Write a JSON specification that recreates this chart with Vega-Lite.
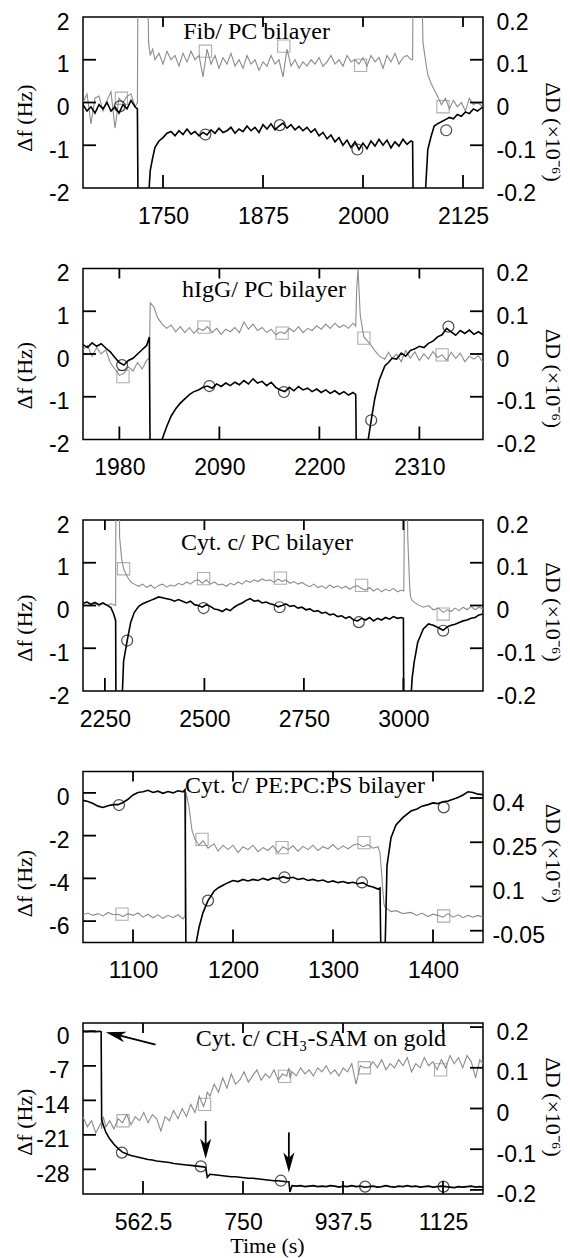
{
"$schema": "https://vega.github.io/schema/vega-lite/v6.json",
"autosize": "none",
"padding": {"left": 83, "top": 17, "right": 487, "bottom": 1241},
"background": "white",
"config": {
  "view": {"stroke": "#000", "strokeWidth": 1.5},
  "axis": {"domain": false, "grid": false, "ticks": false, "labelFont": "Liberation Sans", "labelFontSize": 23, "labelColor": "#000", "titleFont": "Liberation Serif", "titleFontSize": 22, "titleFontWeight": "normal", "titleColor": "#000", "labelFlush": false, "labelOverlap": false}
},
"datasets": {
"p1": [
{"x":1650,"f":-0.05,"d":0},{"x":1655,"f":-0.2,"d":0.02},{"x":1660,"f":-0.1,"d":-0.05},{"x":1665,"f":-0.25,"d":0.01},{"x":1670,"f":-0.05,"d":0.015},{"x":1675,"f":-0.15,"d":-0.02},{"x":1680,"f":0,"d":0.005},{"x":1685,"f":-0.2,"d":0.025},{"x":1690,"f":-0.1,"d":-0.06},{"x":1695,"f":-0.25,"d":0.01},{"x":1700,"f":-0.05,"d":0},{"x":1705,"f":-0.15,"d":0.015},{"x":1710,"f":0.05,"d":0.02},{"x":1715,"f":-0.1,"d":-0.01},{"x":1718,"f":-0.15,"d":0},{"x":1719,"f":-3,"d":0.4},{"x":1730,"f":-3,"d":0.4},{"x":1732,"f":-2.2,"d":0.14},{"x":1734,"f":-1.6,"d":0.11},{"x":1737,"f":-1.3,"d":0.125},{"x":1740,"f":-1.05,"d":0.1},{"x":1745,"f":-0.9,"d":0.115},{"x":1750,"f":-0.82,"d":0.09},{"x":1755,"f":-0.72,"d":0.12},{"x":1760,"f":-0.68,"d":0.1},{"x":1765,"f":-0.78,"d":0.11},{"x":1770,"f":-0.66,"d":0.085},{"x":1775,"f":-0.75,"d":0.115},{"x":1780,"f":-0.62,"d":0.095},{"x":1785,"f":-0.74,"d":0.12},{"x":1790,"f":-0.68,"d":0.1},{"x":1795,"f":-0.78,"d":0.11},{"x":1800,"f":-0.7,"d":0.06},{"x":1805,"f":-0.76,"d":0.125},{"x":1810,"f":-0.64,"d":0.09},{"x":1815,"f":-0.72,"d":0.11},{"x":1820,"f":-0.6,"d":0.08},{"x":1825,"f":-0.7,"d":0.105},{"x":1830,"f":-0.66,"d":0.09},{"x":1835,"f":-0.58,"d":0.115},{"x":1840,"f":-0.72,"d":0.085},{"x":1845,"f":-0.62,"d":0.1},{"x":1850,"f":-0.68,"d":0.08},{"x":1855,"f":-0.55,"d":0.11},{"x":1860,"f":-0.66,"d":0.09},{"x":1865,"f":-0.58,"d":0.1},{"x":1870,"f":-0.7,"d":0.075},{"x":1875,"f":-0.52,"d":0.095},{"x":1880,"f":-0.62,"d":0.085},{"x":1885,"f":-0.5,"d":0.11},{"x":1890,"f":-0.64,"d":0.09},{"x":1895,"f":-0.55,"d":0.1},{"x":1900,"f":-0.48,"d":0.06},{"x":1905,"f":-0.6,"d":0.125},{"x":1910,"f":-0.52,"d":0.085},{"x":1915,"f":-0.64,"d":0.1},{"x":1920,"f":-0.56,"d":0.08},{"x":1925,"f":-0.66,"d":0.095},{"x":1930,"f":-0.58,"d":0.085},{"x":1935,"f":-0.7,"d":0.1},{"x":1940,"f":-0.62,"d":0.09},{"x":1945,"f":-0.78,"d":0.105},{"x":1950,"f":-0.7,"d":0.085},{"x":1955,"f":-0.85,"d":0.095},{"x":1960,"f":-0.76,"d":0.11},{"x":1965,"f":-0.92,"d":0.09},{"x":1970,"f":-0.82,"d":0.1},{"x":1975,"f":-1,"d":0.085},{"x":1980,"f":-0.88,"d":0.11},{"x":1985,"f":-1.05,"d":0.095},{"x":1990,"f":-0.92,"d":0.1},{"x":1995,"f":-1.1,"d":0.09},{"x":2000,"f":-0.95,"d":0.105},{"x":2005,"f":-1.08,"d":0.085},{"x":2010,"f":-0.9,"d":0.11},{"x":2015,"f":-1.02,"d":0.095},{"x":2020,"f":-0.86,"d":0.105},{"x":2025,"f":-1,"d":0.08},{"x":2030,"f":-0.88,"d":0.11},{"x":2035,"f":-1.06,"d":0.095},{"x":2040,"f":-0.92,"d":0.115},{"x":2045,"f":-1.02,"d":0.09},{"x":2050,"f":-0.86,"d":0.105},{"x":2055,"f":-0.98,"d":0.11},{"x":2060,"f":-0.9,"d":0.1},{"x":2062,"f":-0.92,"d":0.1},{"x":2063,"f":-3,"d":0.4},{"x":2072,"f":-3,"d":0.4},{"x":2075,"f":-3,"d":0.14},{"x":2078,"f":-2.1,"d":0.1},{"x":2081,"f":-1.1,"d":0.065},{"x":2085,"f":-0.8,"d":0.045},{"x":2089,"f":-0.55,"d":0.03},{"x":2093,"f":-0.5,"d":0.015},{"x":2098,"f":-0.45,"d":-0.005},{"x":2103,"f":-0.4,"d":0.01},{"x":2108,"f":-0.35,"d":-0.015},{"x":2113,"f":-0.38,"d":0.005},{"x":2118,"f":-0.28,"d":-0.01},{"x":2123,"f":-0.32,"d":0},{"x":2128,"f":-0.22,"d":-0.02},{"x":2133,"f":-0.26,"d":0.01},{"x":2138,"f":-0.15,"d":-0.005},{"x":2143,"f":-0.2,"d":0},{"x":2150,"f":-0.1,"d":-0.01}
],
"c1": [{"x":1696,"f":-0.09},{"x":1803,"f":-0.75},{"x":1896,"f":-0.53},{"x":1993,"f":-1.1},{"x":2104,"f":-0.65}],
"q1": [{"x":1698,"d":0.01},{"x":1803,"d":0.12},{"x":1901,"d":0.132},{"x":1997,"d":0.087},{"x":2100,"d":-0.01}],
"p2": [
{"x":1940,"f":0.22,"d":0.01},{"x":1945,"f":0.15,"d":0.02},{"x":1950,"f":0.26,"d":-0.005},{"x":1955,"f":0.18,"d":0.015},{"x":1960,"f":0.24,"d":0},{"x":1965,"f":0.14,"d":0.01},{"x":1970,"f":0.05,"d":-0.02},{"x":1975,"f":-0.08,"d":-0.035},{"x":1980,"f":-0.2,"d":-0.05},{"x":1985,"f":-0.26,"d":-0.045},{"x":1990,"f":-0.15,"d":-0.03},{"x":1995,"f":-0.1,"d":-0.04},{"x":2000,"f":0,"d":-0.02},{"x":2005,"f":0.1,"d":-0.035},{"x":2010,"f":0.2,"d":-0.015},{"x":2013,"f":0.4,"d":-0.01},{"x":2014,"f":-3,"d":0.12},{"x":2018,"f":-3,"d":0.11},{"x":2022,"f":-3,"d":0.085},{"x":2027,"f":-2,"d":0.07},{"x":2032,"f":-1.7,"d":0.06},{"x":2037,"f":-1.45,"d":0.068},{"x":2042,"f":-1.28,"d":0.052},{"x":2047,"f":-1.15,"d":0.064},{"x":2052,"f":-1.05,"d":0.05},{"x":2057,"f":-0.95,"d":0.062},{"x":2062,"f":-0.88,"d":0.048},{"x":2067,"f":-0.84,"d":0.06},{"x":2072,"f":-0.78,"d":0.055},{"x":2077,"f":-0.75,"d":0.064},{"x":2082,"f":-0.8,"d":0.05},{"x":2087,"f":-0.7,"d":0.06},{"x":2092,"f":-0.76,"d":0.046},{"x":2097,"f":-0.68,"d":0.058},{"x":2102,"f":-0.74,"d":0.052},{"x":2107,"f":-0.66,"d":0.062},{"x":2112,"f":-0.72,"d":0.05},{"x":2117,"f":-0.62,"d":0.075},{"x":2122,"f":-0.7,"d":0.058},{"x":2127,"f":-0.58,"d":0.07},{"x":2132,"f":-0.68,"d":0.055},{"x":2137,"f":-0.64,"d":0.062},{"x":2142,"f":-0.74,"d":0.05},{"x":2147,"f":-0.66,"d":0.058},{"x":2152,"f":-0.78,"d":0.045},{"x":2157,"f":-0.84,"d":0.052},{"x":2162,"f":-0.88,"d":0.048},{"x":2167,"f":-0.78,"d":0.06},{"x":2172,"f":-0.86,"d":0.052},{"x":2177,"f":-0.76,"d":0.064},{"x":2182,"f":-0.84,"d":0.05},{"x":2187,"f":-0.8,"d":0.06},{"x":2192,"f":-0.88,"d":0.055},{"x":2197,"f":-0.82,"d":0.066},{"x":2202,"f":-0.9,"d":0.058},{"x":2207,"f":-0.84,"d":0.07},{"x":2212,"f":-0.92,"d":0.06},{"x":2217,"f":-0.86,"d":0.072},{"x":2222,"f":-0.94,"d":0.062},{"x":2227,"f":-0.88,"d":0.068},{"x":2232,"f":-0.96,"d":0.06},{"x":2237,"f":-0.9,"d":0.072},{"x":2240,"f":-0.95,"d":0.065},{"x":2241,"f":-3,"d":0.15},{"x":2242.5,"f":-3,"d":0.2},{"x":2245,"f":-3,"d":0.09},{"x":2249,"f":-3,"d":0.04},{"x":2253,"f":-2.1,"d":0.03},{"x":2257,"f":-1.55,"d":0.02},{"x":2261,"f":-1.04,"d":0.008},{"x":2266,"f":-0.6,"d":-0.005},{"x":2272,"f":-0.28,"d":-0.012},{"x":2276,"f":-0.2,"d":0.004},{"x":2280,"f":-0.1,"d":-0.01},{"x":2285,"f":-0.12,"d":0},{"x":2290,"f":0.02,"d":-0.018},{"x":2295,"f":-0.05,"d":0.008},{"x":2300,"f":0.08,"d":-0.01},{"x":2305,"f":0.12,"d":0.005},{"x":2310,"f":0.18,"d":-0.015},{"x":2315,"f":0.15,"d":0},{"x":2320,"f":0.25,"d":-0.012},{"x":2325,"f":0.3,"d":0.006},{"x":2330,"f":0.4,"d":-0.008},{"x":2335,"f":0.45,"d":-0.002},{"x":2340,"f":0.6,"d":-0.015},{"x":2345,"f":0.52,"d":0.004},{"x":2350,"f":0.44,"d":-0.01},{"x":2355,"f":0.55,"d":0.002},{"x":2360,"f":0.48,"d":-0.018},{"x":2365,"f":0.56,"d":-0.005},{"x":2370,"f":0.46,"d":-0.012},{"x":2375,"f":0.52,"d":-0.004},{"x":2380,"f":0.45,"d":-0.02}
],
"c2": [{"x":1983,"f":-0.26},{"x":2079,"f":-0.75},{"x":2161,"f":-0.89},{"x":2257,"f":-1.55},{"x":2342,"f":0.64}],
"q2": [{"x":1984,"d":-0.053},{"x":2073,"d":0.063},{"x":2159,"d":0.049},{"x":2249,"d":0.037},{"x":2335,"d":-0.002}],
"p3": [
{"x":2195,"f":0.05,"d":0.004},{"x":2205,"f":0.08,"d":0.008},{"x":2215,"f":0.03,"d":0.002},{"x":2225,"f":0.07,"d":0.006},{"x":2235,"f":0.02,"d":-0.002},{"x":2245,"f":0.06,"d":0.005},{"x":2255,"f":0.01,"d":0},{"x":2265,"f":-0.05,"d":0.004},{"x":2272,"f":-0.2,"d":0.002},{"x":2277,"f":-0.35,"d":0},{"x":2278,"f":-3,"d":0.4},{"x":2285,"f":-3,"d":0.4},{"x":2287,"f":-3,"d":0.16},{"x":2292,"f":-2.5,"d":0.11},{"x":2297,"f":-1.3,"d":0.086},{"x":2306,"f":-0.82,"d":0.068},{"x":2315,"f":-0.39,"d":0.055},{"x":2324,"f":-0.16,"d":0.05},{"x":2335,"f":-0.02,"d":0.045},{"x":2345,"f":0.04,"d":0.05},{"x":2355,"f":0.08,"d":0.042},{"x":2365,"f":0.12,"d":0.048},{"x":2375,"f":0.16,"d":0.04},{"x":2385,"f":0.2,"d":0.047},{"x":2395,"f":0.18,"d":0.05},{"x":2405,"f":0.16,"d":0.043},{"x":2415,"f":0.14,"d":0.048},{"x":2425,"f":0.1,"d":0.045},{"x":2435,"f":0.14,"d":0.052},{"x":2445,"f":0.1,"d":0.048},{"x":2455,"f":0.06,"d":0.055},{"x":2465,"f":0.1,"d":0.05},{"x":2475,"f":0.02,"d":0.058},{"x":2485,"f":0,"d":0.06},{"x":2495,"f":-0.04,"d":0.052},{"x":2505,"f":0.02,"d":0.06},{"x":2515,"f":-0.02,"d":0.05},{"x":2525,"f":-0.08,"d":0.055},{"x":2535,"f":-0.1,"d":0.048},{"x":2545,"f":-0.14,"d":0.05},{"x":2555,"f":-0.08,"d":0.045},{"x":2565,"f":-0.12,"d":0.052},{"x":2575,"f":-0.04,"d":0.048},{"x":2585,"f":0.02,"d":0.055},{"x":2595,"f":0.06,"d":0.05},{"x":2605,"f":0.12,"d":0.058},{"x":2615,"f":0.16,"d":0.054},{"x":2625,"f":0.1,"d":0.06},{"x":2635,"f":0.12,"d":0.056},{"x":2645,"f":0.06,"d":0.062},{"x":2655,"f":0.08,"d":0.058},{"x":2665,"f":0.04,"d":0.06},{"x":2675,"f":0.02,"d":0.054},{"x":2685,"f":-0.03,"d":0.062},{"x":2695,"f":0,"d":0.056},{"x":2705,"f":0.04,"d":0.06},{"x":2715,"f":-0.02,"d":0.052},{"x":2725,"f":0,"d":0.056},{"x":2735,"f":-0.06,"d":0.05},{"x":2745,"f":-0.04,"d":0.054},{"x":2755,"f":-0.1,"d":0.048},{"x":2765,"f":-0.08,"d":0.044},{"x":2775,"f":-0.14,"d":0.05},{"x":2785,"f":-0.12,"d":0.042},{"x":2795,"f":-0.18,"d":0.046},{"x":2805,"f":-0.16,"d":0.04},{"x":2815,"f":-0.22,"d":0.048},{"x":2825,"f":-0.2,"d":0.042},{"x":2835,"f":-0.26,"d":0.046},{"x":2845,"f":-0.24,"d":0.04},{"x":2855,"f":-0.3,"d":0.045},{"x":2865,"f":-0.26,"d":0.038},{"x":2875,"f":-0.34,"d":0.044},{"x":2885,"f":-0.36,"d":0.046},{"x":2895,"f":-0.3,"d":0.04},{"x":2905,"f":-0.34,"d":0.036},{"x":2915,"f":-0.28,"d":0.042},{"x":2925,"f":-0.36,"d":0.034},{"x":2935,"f":-0.3,"d":0.04},{"x":2945,"f":-0.34,"d":0.032},{"x":2955,"f":-0.28,"d":0.038},{"x":2965,"f":-0.32,"d":0.034},{"x":2975,"f":-0.26,"d":0.04},{"x":2985,"f":-0.3,"d":0.032},{"x":2995,"f":-0.28,"d":0.036},{"x":3000,"f":-0.3,"d":0.034},{"x":3001,"f":-3,"d":0.034},{"x":3004,"f":-3,"d":0.4},{"x":3008,"f":-3,"d":0.4},{"x":3011,"f":-3,"d":0.157},{"x":3016,"f":-3,"d":0.04},{"x":3018,"f":-2.3,"d":0.02},{"x":3022,"f":-1.7,"d":0.012},{"x":3027,"f":-1.33,"d":0.008},{"x":3036,"f":-0.86,"d":0.002},{"x":3050,"f":-0.55,"d":-0.004},{"x":3063,"f":-0.43,"d":0},{"x":3075,"f":-0.46,"d":-0.01},{"x":3088,"f":-0.52,"d":-0.006},{"x":3100,"f":-0.58,"d":-0.016},{"x":3110,"f":-0.5,"d":-0.01},{"x":3120,"f":-0.46,"d":-0.014},{"x":3130,"f":-0.44,"d":-0.006},{"x":3140,"f":-0.4,"d":-0.012},{"x":3150,"f":-0.36,"d":-0.004},{"x":3160,"f":-0.34,"d":-0.01},{"x":3170,"f":-0.3,"d":-0.002},{"x":3180,"f":-0.28,"d":-0.01},{"x":3190,"f":-0.22,"d":-0.004},{"x":3200,"f":-0.2,"d":-0.008}
],
"c3": [{"x":2306,"f":-0.82},{"x":2498,"f":-0.06},{"x":2689,"f":-0.04},{"x":2888,"f":-0.39},{"x":3100,"f":-0.59}],
"q3": [{"x":2297,"d":0.086},{"x":2498,"d":0.063},{"x":2691,"d":0.064},{"x":2895,"d":0.047},{"x":3100,"d":-0.02}],
"p4": [
{"x":1050,"f":-0.35,"d":0.004},{"x":1055,"f":-0.4,"d":0.01},{"x":1060,"f":-0.5,"d":0.002},{"x":1065,"f":-0.62,"d":0.008},{"x":1070,"f":-0.68,"d":0},{"x":1075,"f":-0.6,"d":0.012},{"x":1080,"f":-0.55,"d":0.004},{"x":1085,"f":-0.55,"d":0.006},{"x":1090,"f":-0.45,"d":-0.002},{"x":1095,"f":-0.3,"d":0.008},{"x":1100,"f":-0.1,"d":0.002},{"x":1105,"f":0.02,"d":0.01},{"x":1110,"f":0.05,"d":-0.004},{"x":1115,"f":0.12,"d":0.006},{"x":1120,"f":0.02,"d":-0.006},{"x":1125,"f":0.08,"d":0.004},{"x":1130,"f":-0.02,"d":-0.008},{"x":1135,"f":0.06,"d":0.002},{"x":1140,"f":0,"d":-0.006},{"x":1145,"f":0.1,"d":0.004},{"x":1150,"f":0.05,"d":-0.01},{"x":1152,"f":0.15,"d":0},{"x":1153,"f":-8,"d":0.42},{"x":1156,"f":-8,"d":0.37},{"x":1159,"f":-8,"d":0.29},{"x":1162,"f":-7.3,"d":0.26},{"x":1166,"f":-6.3,"d":0.24},{"x":1170,"f":-5.6,"d":0.255},{"x":1175,"f":-5.04,"d":0.23},{"x":1181,"f":-4.6,"d":0.245},{"x":1185,"f":-4.45,"d":0.22},{"x":1190,"f":-4.32,"d":0.24},{"x":1195,"f":-4.2,"d":0.225},{"x":1200,"f":-4.1,"d":0.24},{"x":1205,"f":-4.15,"d":0.215},{"x":1210,"f":-4.05,"d":0.235},{"x":1215,"f":-4.12,"d":0.225},{"x":1220,"f":-4.05,"d":0.24},{"x":1225,"f":-4.1,"d":0.218},{"x":1230,"f":-4,"d":0.232},{"x":1235,"f":-4.08,"d":0.222},{"x":1240,"f":-3.98,"d":0.238},{"x":1245,"f":-4.02,"d":0.215},{"x":1250,"f":-3.92,"d":0.235},{"x":1255,"f":-4,"d":0.225},{"x":1260,"f":-3.95,"d":0.238},{"x":1265,"f":-4.05,"d":0.22},{"x":1270,"f":-4,"d":0.236},{"x":1275,"f":-4.1,"d":0.225},{"x":1280,"f":-4.05,"d":0.24},{"x":1285,"f":-4.12,"d":0.222},{"x":1290,"f":-4.08,"d":0.235},{"x":1295,"f":-4.18,"d":0.228},{"x":1300,"f":-4.12,"d":0.242},{"x":1305,"f":-4.2,"d":0.225},{"x":1310,"f":-4.15,"d":0.238},{"x":1315,"f":-4.22,"d":0.228},{"x":1320,"f":-4.18,"d":0.24},{"x":1325,"f":-4.25,"d":0.245},{"x":1330,"f":-4.2,"d":0.235},{"x":1335,"f":-4.35,"d":0.242},{"x":1340,"f":-4.4,"d":0.23},{"x":1345,"f":-4.5,"d":0.235},{"x":1347,"f":-4.45,"d":0.215},{"x":1348,"f":-8,"d":0.17},{"x":1350,"f":-8,"d":0.08},{"x":1351,"f":-8,"d":0.04},{"x":1352,"f":-7.5,"d":0.03},{"x":1354,"f":-3.4,"d":0.025},{"x":1358,"f":-2.1,"d":0.015},{"x":1363,"f":-1.5,"d":0.018},{"x":1370,"f":-1.15,"d":0.008},{"x":1378,"f":-0.85,"d":0.012},{"x":1384,"f":-0.75,"d":0.002},{"x":1389,"f":-0.62,"d":0.01},{"x":1395,"f":-0.55,"d":-0.002},{"x":1400,"f":-0.47,"d":0.006},{"x":1405,"f":-0.5,"d":0.002},{"x":1410,"f":-0.42,"d":-0.004},{"x":1415,"f":-0.38,"d":0.008},{"x":1420,"f":-0.3,"d":-0.004},{"x":1425,"f":-0.22,"d":0.004},{"x":1430,"f":-0.1,"d":-0.006},{"x":1435,"f":0.05,"d":0.002},{"x":1440,"f":0.02,"d":-0.004},{"x":1445,"f":-0.06,"d":0.002},{"x":1450,"f":-0.08,"d":-0.004}
],
"c4": [{"x":1086,"f":-0.57},{"x":1175,"f":-5.04},{"x":1251.5,"f":-3.95},{"x":1329,"f":-4.19},{"x":1410.7,"f":-0.68}],
"q4": [{"x":1089,"d":0.006},{"x":1169,"d":0.26},{"x":1249,"d":0.232},{"x":1331,"d":0.249},{"x":1410.7,"d":0}],
"p5": [
{"x":450,"f":0,"d":-0.02},{"x":458,"f":-0.05,"d":-0.045},{"x":466,"f":0.05,"d":-0.03},{"x":474,"f":-0.05,"d":-0.06},{"x":482,"f":0,"d":-0.04},{"x":484,"f":-0.1,"d":-0.035},{"x":485,"f":-18,"d":-0.05},{"x":488,"f":-19,"d":-0.02},{"x":493,"f":-20.5,"d":-0.045},{"x":500,"f":-21.8,"d":-0.03},{"x":508,"f":-22.9,"d":-0.05},{"x":516,"f":-23.8,"d":-0.025},{"x":524,"f":-24.5,"d":-0.035},{"x":532,"f":-24.9,"d":-0.015},{"x":540,"f":-25.2,"d":-0.04},{"x":548,"f":-25.4,"d":-0.02},{"x":556,"f":-25.6,"d":-0.03},{"x":564,"f":-25.8,"d":-0.01},{"x":572,"f":-26,"d":-0.035},{"x":580,"f":-26.1,"d":-0.015},{"x":588,"f":-26.3,"d":-0.025},{"x":596,"f":-26.4,"d":-0.055},{"x":604,"f":-26.5,"d":-0.02},{"x":612,"f":-26.6,"d":-0.03},{"x":620,"f":-26.8,"d":-0.005},{"x":628,"f":-26.9,"d":-0.025},{"x":636,"f":-27,"d":0},{"x":644,"f":-27.1,"d":-0.02},{"x":652,"f":-27.2,"d":0.01},{"x":660,"f":-27.3,"d":-0.01},{"x":668,"f":-27.4,"d":0.03},{"x":676,"f":-27.5,"d":0.005},{"x":680,"f":-27.6,"d":0.02},{"x":683,"f":-29.6,"d":0.04},{"x":688,"f":-29,"d":0.03},{"x":696,"f":-29.1,"d":0.06},{"x":704,"f":-29.2,"d":0.04},{"x":712,"f":-29.3,"d":0.075},{"x":720,"f":-29.4,"d":0.05},{"x":728,"f":-29.5,"d":0.085},{"x":736,"f":-29.5,"d":0.06},{"x":744,"f":-29.6,"d":0.07},{"x":752,"f":-29.7,"d":0.09},{"x":760,"f":-29.8,"d":0.065},{"x":768,"f":-29.8,"d":0.08},{"x":776,"f":-29.9,"d":0.095},{"x":784,"f":-30,"d":0.07},{"x":792,"f":-30.1,"d":0.085},{"x":800,"f":-30.2,"d":0.075},{"x":808,"f":-30.3,"d":0.095},{"x":816,"f":-30.3,"d":0.07},{"x":824,"f":-30.4,"d":0.085},{"x":832,"f":-30.5,"d":0.08},{"x":836,"f":-30.5,"d":0.1},{"x":838,"f":-32.6,"d":0.075},{"x":842,"f":-31.3,"d":0.09},{"x":850,"f":-31.4,"d":0.08},{"x":858,"f":-31.3,"d":0.1},{"x":866,"f":-31.5,"d":0.085},{"x":874,"f":-31.4,"d":0.095},{"x":882,"f":-31.3,"d":0.08},{"x":890,"f":-31.5,"d":0.1},{"x":898,"f":-31.4,"d":0.09},{"x":906,"f":-31.5,"d":0.105},{"x":914,"f":-31.3,"d":0.085},{"x":922,"f":-31.4,"d":0.095},{"x":930,"f":-31.6,"d":0.08},{"x":938,"f":-31.4,"d":0.1},{"x":946,"f":-31.5,"d":0.09},{"x":954,"f":-31.3,"d":0.11},{"x":962,"f":-31.5,"d":0.06},{"x":970,"f":-31.4,"d":0.105},{"x":978,"f":-31.6,"d":0.1},{"x":986,"f":-31.5,"d":0.1},{"x":994,"f":-31.4,"d":0.115},{"x":1002,"f":-31.6,"d":0.1},{"x":1010,"f":-31.5,"d":0.12},{"x":1018,"f":-31.3,"d":0.095},{"x":1026,"f":-31.5,"d":0.11},{"x":1034,"f":-31.6,"d":0.1},{"x":1042,"f":-31.4,"d":0.12},{"x":1050,"f":-31.5,"d":0.105},{"x":1058,"f":-31.3,"d":0.125},{"x":1066,"f":-31.5,"d":0.09},{"x":1074,"f":-31.4,"d":0.11},{"x":1082,"f":-31.6,"d":0.1},{"x":1090,"f":-31.5,"d":0.125},{"x":1098,"f":-31.4,"d":0.105},{"x":1106,"f":-31.6,"d":0.115},{"x":1114,"f":-31.5,"d":0.095},{"x":1122,"f":-31.4,"d":0.12},{"x":1130,"f":-31.5,"d":0.1},{"x":1138,"f":-31.6,"d":0.13},{"x":1146,"f":-31.7,"d":0.11},{"x":1154,"f":-31.5,"d":0.125},{"x":1162,"f":-31.6,"d":0.1},{"x":1170,"f":-31.5,"d":0.13},{"x":1178,"f":-31.4,"d":0.115},{"x":1186,"f":-31.6,"d":0.075},{"x":1194,"f":-31.5,"d":0.12},{"x":1200,"f":-31.6,"d":0.11}
],
"c5": [{"x":523,"f":-24.6},{"x":671,"f":-27.4},{"x":821,"f":-30.3},{"x":979,"f":-31.5},{"x":1126,"f":-31.5}],
"q5": [{"x":525,"d":-0.03},{"x":678,"d":0.01},{"x":828,"d":0.079},{"x":977.6,"d":0.1},{"x":1120.5,"d":0.095}],
"k1": [{"x":1750,"y":-2,"x2":1750,"y2":-1.696},{"x":1875,"y":-2,"x2":1875,"y2":-1.696},{"x":2000,"y":-2,"x2":2000,"y2":-1.696},{"x":2125,"y":-2,"x2":2125,"y2":-1.696},{"x":1750,"y":2,"x2":1750,"y2":1.766},{"x":1875,"y":2,"x2":1875,"y2":1.766},{"x":2000,"y":2,"x2":2000,"y2":1.766},{"x":2125,"y":2,"x2":2125,"y2":1.766},{"x":1650,"y":-1,"x2":1666.25,"y2":-1},{"x":1650,"y":0,"x2":1666.25,"y2":0},{"x":1650,"y":1,"x2":1666.25,"y2":1},{"x":2150,"y":-1,"x2":2133.75,"y2":-1},{"x":2150,"y":0,"x2":2133.75,"y2":0},{"x":2150,"y":1,"x2":2133.75,"y2":1}],
"k2": [{"x":1980,"y":-2,"x2":1980,"y2":-1.696},{"x":2090,"y":-2,"x2":2090,"y2":-1.696},{"x":2200,"y":-2,"x2":2200,"y2":-1.696},{"x":2310,"y":-2,"x2":2310,"y2":-1.696},{"x":1980,"y":2,"x2":1980,"y2":1.766},{"x":2090,"y":2,"x2":2090,"y2":1.766},{"x":2200,"y":2,"x2":2200,"y2":1.766},{"x":2310,"y":2,"x2":2310,"y2":1.766},{"x":1940,"y":-1,"x2":1954.3,"y2":-1},{"x":1940,"y":0,"x2":1954.3,"y2":0},{"x":1940,"y":1,"x2":1954.3,"y2":1},{"x":2380,"y":-1,"x2":2365.7,"y2":-1},{"x":2380,"y":0,"x2":2365.7,"y2":0},{"x":2380,"y":1,"x2":2365.7,"y2":1}],
"k3": [{"x":2250,"y":-2,"x2":2250,"y2":-1.696},{"x":2500,"y":-2,"x2":2500,"y2":-1.696},{"x":2750,"y":-2,"x2":2750,"y2":-1.696},{"x":3000,"y":-2,"x2":3000,"y2":-1.696},{"x":2250,"y":2,"x2":2250,"y2":1.766},{"x":2500,"y":2,"x2":2500,"y2":1.766},{"x":2750,"y":2,"x2":2750,"y2":1.766},{"x":3000,"y":2,"x2":3000,"y2":1.766},{"x":2195,"y":-1,"x2":2227.7,"y2":-1},{"x":2195,"y":0,"x2":2227.7,"y2":0},{"x":2195,"y":1,"x2":2227.7,"y2":1},{"x":3200,"y":-1,"x2":3167.3,"y2":-1},{"x":3200,"y":0,"x2":3167.3,"y2":0},{"x":3200,"y":1,"x2":3167.3,"y2":1}],
"k4": [{"x":1100,"y":-7,"x2":1100,"y2":-6.392},{"x":1200,"y":-7,"x2":1200,"y2":-6.392},{"x":1300,"y":-7,"x2":1300,"y2":-6.392},{"x":1400,"y":-7,"x2":1400,"y2":-6.392},{"x":1100,"y":1,"x2":1100,"y2":0.532},{"x":1200,"y":1,"x2":1200,"y2":0.532},{"x":1300,"y":1,"x2":1300,"y2":0.532},{"x":1400,"y":1,"x2":1400,"y2":0.532},{"x":1050,"y":-6,"x2":1063,"y2":-6},{"x":1050,"y":-4,"x2":1063,"y2":-4},{"x":1050,"y":-2,"x2":1063,"y2":-2},{"x":1050,"y":0,"x2":1063,"y2":0},{"x":1450,"y":-6.448,"x2":1437,"y2":-6.448},{"x":1450,"y":-4.379,"x2":1437,"y2":-4.379},{"x":1450,"y":-2.31,"x2":1437,"y2":-2.31},{"x":1450,"y":-0.241,"x2":1437,"y2":-0.241}],
"k5": [{"x":562.5,"y":-33,"x2":562.5,"y2":-30.36},{"x":750,"y":-33,"x2":750,"y2":-30.36},{"x":937.5,"y":-33,"x2":937.5,"y2":-30.36},{"x":1125,"y":-33,"x2":1125,"y2":-30.36},{"x":562.5,"y":1.7,"x2":562.5,"y2":-0.33},{"x":750,"y":1.7,"x2":750,"y2":-0.33},{"x":937.5,"y":1.7,"x2":937.5,"y2":-0.33},{"x":1125,"y":1.7,"x2":1125,"y2":-0.33},{"x":450,"y":-28,"x2":474.4,"y2":-28},{"x":450,"y":-21,"x2":474.4,"y2":-21},{"x":450,"y":-14,"x2":474.4,"y2":-14},{"x":450,"y":-7,"x2":474.4,"y2":-7},{"x":450,"y":0,"x2":474.4,"y2":0},{"x":1200,"y":-32.17,"x2":1175.6,"y2":-32.17},{"x":1200,"y":-23.91,"x2":1175.6,"y2":-23.91},{"x":1200,"y":-15.65,"x2":1175.6,"y2":-15.65},{"x":1200,"y":-7.39,"x2":1175.6,"y2":-7.39},{"x":1200,"y":0.87,"x2":1175.6,"y2":0.87}]
},
"vconcat": [
{
 "width": 400, "height": 171,
 "layer": [
  {"data": {"name": "p1"}, "mark": {"type": "line", "color": "#8c8c8c", "strokeWidth": 1.1, "clip": true},
   "encoding": {"x": {"field": "x", "type": "quantitative", "scale": {"domain": [1650, 2150], "nice": false, "zero": false}, "axis": null},
                "y": {"field": "d", "type": "quantitative", "scale": {"domain": [-0.2, 0.2], "nice": false, "zero": false}, "axis": {"orient": "right", "values": [-0.2, -0.1, 0, 0.1, 0.2], "labelPadding": 13, "labelOffset": 5, "labelExpr": "'' + datum.value", "title": "ΔD (×10⁻⁶)", "titleX": 69, "titleY": 114.7, "titleBaseline": "middle", "titleAngle": 90}}}},
  {"data": {"name": "q1"}, "mark": {"type": "point", "shape": "square", "filled": false, "color": "#8c8c8c", "size": 150, "strokeWidth": 1.1},
   "encoding": {"x": {"field": "x", "type": "quantitative", "scale": {"domain": [1650, 2150], "nice": false, "zero": false}, "axis": null},
                "y": {"field": "d", "type": "quantitative", "scale": {"domain": [-0.2, 0.2], "nice": false, "zero": false}, "axis": null}}},
  {"data": {"name": "p1"}, "mark": {"type": "line", "color": "#000", "strokeWidth": 1.6, "clip": true},
   "encoding": {"x": {"field": "x", "type": "quantitative", "scale": {"domain": [1650, 2150], "nice": false, "zero": false}, "axis": {"orient": "bottom", "values": [1750, 1875, 2000, 2125], "labelPadding": 17, "labelExpr": "'' + datum.value", "title": null}},
                "y": {"field": "f", "type": "quantitative", "scale": {"domain": [-2, 2], "nice": false, "zero": false}, "axis": {"orient": "left", "values": [-2, -1, 0, 1, 2], "labelPadding": 14, "labelOffset": 5, "labelExpr": "'' + datum.value", "title": "Δf (Hz)", "titleX": -59, "titleY": 100.5, "titleBaseline": "middle", "titleAngle": -90}}}},
  {"data": {"name": "c1"}, "mark": {"type": "point", "shape": "circle", "filled": false, "color": "#000", "size": 120, "strokeWidth": 1.2},
   "encoding": {"x": {"field": "x", "type": "quantitative", "scale": {"domain": [1650, 2150], "nice": false, "zero": false}, "axis": null},
                "y": {"field": "f", "type": "quantitative", "scale": {"domain": [-2, 2], "nice": false, "zero": false}, "axis": null}}},
  {"data": {"name": "k1"}, "mark": {"type": "rule", "color": "#000", "strokeWidth": 1.8},
   "encoding": {"x": {"field": "x", "type": "quantitative", "scale": {"domain": [1650, 2150], "nice": false, "zero": false}, "axis": null},
                "y": {"field": "y", "type": "quantitative", "scale": {"domain": [-2, 2], "nice": false, "zero": false}, "axis": null},
                "x2": {"field": "x2"}, "y2": {"field": "y2"}}},
  {"data": {"values": [{"x": 1867, "f": 1.48, "t": "Fib/ PC bilayer"}]}, "mark": {"type": "text", "font": "Liberation Serif", "fontSize": 24, "align": "center", "baseline": "alphabetic", "color": "#000"},
   "encoding": {"x": {"field": "x", "type": "quantitative", "scale": {"domain": [1650, 2150], "nice": false, "zero": false}, "axis": null},
                "y": {"field": "f", "type": "quantitative", "scale": {"domain": [-2, 2], "nice": false, "zero": false}, "axis": null},
                "text": {"field": "t"}}}
 ],
 "resolve": {"scale": {"y": "independent"}, "axis": {"x": "independent", "y": "independent"}}
},
{
 "width": 400, "height": 171,
 "layer": [
  {"data": {"name": "p2"}, "mark": {"type": "line", "color": "#8c8c8c", "strokeWidth": 1.1, "clip": true},
   "encoding": {"x": {"field": "x", "type": "quantitative", "scale": {"domain": [1940, 2380], "nice": false, "zero": false}, "axis": null},
                "y": {"field": "d", "type": "quantitative", "scale": {"domain": [-0.2, 0.2], "nice": false, "zero": false}, "axis": {"orient": "right", "values": [-0.2, -0.1, 0, 0.1, 0.2], "labelPadding": 13, "labelOffset": 5, "labelExpr": "'' + datum.value", "title": "ΔD (×10⁻⁶)", "titleX": 69, "titleY": 109.5, "titleBaseline": "middle", "titleAngle": 90}}}},
  {"data": {"name": "q2"}, "mark": {"type": "point", "shape": "square", "filled": false, "color": "#8c8c8c", "size": 150, "strokeWidth": 1.1},
   "encoding": {"x": {"field": "x", "type": "quantitative", "scale": {"domain": [1940, 2380], "nice": false, "zero": false}, "axis": null},
                "y": {"field": "d", "type": "quantitative", "scale": {"domain": [-0.2, 0.2], "nice": false, "zero": false}, "axis": null}}},
  {"data": {"name": "p2"}, "mark": {"type": "line", "color": "#000", "strokeWidth": 1.6, "clip": true},
   "encoding": {"x": {"field": "x", "type": "quantitative", "scale": {"domain": [1940, 2380], "nice": false, "zero": false}, "axis": {"orient": "bottom", "values": [1980, 2090, 2200, 2310], "labelPadding": 17, "labelExpr": "'' + datum.value", "title": null}},
                "y": {"field": "f", "type": "quantitative", "scale": {"domain": [-2, 2], "nice": false, "zero": false}, "axis": {"orient": "left", "values": [-2, -1, 0, 1, 2], "labelPadding": 14, "labelOffset": 5, "labelExpr": "'' + datum.value", "title": "Δf (Hz)", "titleX": -59, "titleY": 106.5, "titleBaseline": "middle", "titleAngle": -90}}}},
  {"data": {"name": "c2"}, "mark": {"type": "point", "shape": "circle", "filled": false, "color": "#000", "size": 120, "strokeWidth": 1.2},
   "encoding": {"x": {"field": "x", "type": "quantitative", "scale": {"domain": [1940, 2380], "nice": false, "zero": false}, "axis": null},
                "y": {"field": "f", "type": "quantitative", "scale": {"domain": [-2, 2], "nice": false, "zero": false}, "axis": null}}},
  {"data": {"name": "k2"}, "mark": {"type": "rule", "color": "#000", "strokeWidth": 1.8},
   "encoding": {"x": {"field": "x", "type": "quantitative", "scale": {"domain": [1940, 2380], "nice": false, "zero": false}, "axis": null},
                "y": {"field": "y", "type": "quantitative", "scale": {"domain": [-2, 2], "nice": false, "zero": false}, "axis": null},
                "x2": {"field": "x2"}, "y2": {"field": "y2"}}},
  {"data": {"values": [{"x": 2139, "f": 1.33, "t": "hIgG/ PC bilayer"}]}, "mark": {"type": "text", "font": "Liberation Serif", "fontSize": 24, "align": "center", "baseline": "alphabetic", "color": "#000"},
   "encoding": {"x": {"field": "x", "type": "quantitative", "scale": {"domain": [1940, 2380], "nice": false, "zero": false}, "axis": null},
                "y": {"field": "f", "type": "quantitative", "scale": {"domain": [-2, 2], "nice": false, "zero": false}, "axis": null},
                "text": {"field": "t"}}}
 ],
 "resolve": {"scale": {"y": "independent"}, "axis": {"x": "independent", "y": "independent"}}
},
{
 "width": 400, "height": 171,
 "layer": [
  {"data": {"name": "p3"}, "mark": {"type": "line", "color": "#8c8c8c", "strokeWidth": 1.1, "clip": true},
   "encoding": {"x": {"field": "x", "type": "quantitative", "scale": {"domain": [2195, 3200], "nice": false, "zero": false}, "axis": null},
                "y": {"field": "d", "type": "quantitative", "scale": {"domain": [-0.2, 0.2], "nice": false, "zero": false}, "axis": {"orient": "right", "values": [-0.2, -0.1, 0, 0.1, 0.2], "labelPadding": 13, "labelOffset": 5, "labelExpr": "'' + datum.value", "title": "ΔD (×10⁻⁶)", "titleX": 69, "titleY": 91.7, "titleBaseline": "middle", "titleAngle": 90}}}},
  {"data": {"name": "q3"}, "mark": {"type": "point", "shape": "square", "filled": false, "color": "#8c8c8c", "size": 150, "strokeWidth": 1.1},
   "encoding": {"x": {"field": "x", "type": "quantitative", "scale": {"domain": [2195, 3200], "nice": false, "zero": false}, "axis": null},
                "y": {"field": "d", "type": "quantitative", "scale": {"domain": [-0.2, 0.2], "nice": false, "zero": false}, "axis": null}}},
  {"data": {"name": "p3"}, "mark": {"type": "line", "color": "#000", "strokeWidth": 1.6, "clip": true},
   "encoding": {"x": {"field": "x", "type": "quantitative", "scale": {"domain": [2195, 3200], "nice": false, "zero": false}, "axis": {"orient": "bottom", "values": [2250, 2500, 2750, 3000], "labelPadding": 17, "labelExpr": "'' + datum.value", "title": null}},
                "y": {"field": "f", "type": "quantitative", "scale": {"domain": [-2, 2], "nice": false, "zero": false}, "axis": {"orient": "left", "values": [-2, -1, 0, 1, 2], "labelPadding": 14, "labelOffset": 5, "labelExpr": "'' + datum.value", "title": "Δf (Hz)", "titleX": -59, "titleY": 107.5, "titleBaseline": "middle", "titleAngle": -90}}}},
  {"data": {"name": "c3"}, "mark": {"type": "point", "shape": "circle", "filled": false, "color": "#000", "size": 120, "strokeWidth": 1.2},
   "encoding": {"x": {"field": "x", "type": "quantitative", "scale": {"domain": [2195, 3200], "nice": false, "zero": false}, "axis": null},
                "y": {"field": "f", "type": "quantitative", "scale": {"domain": [-2, 2], "nice": false, "zero": false}, "axis": null}}},
  {"data": {"name": "k3"}, "mark": {"type": "rule", "color": "#000", "strokeWidth": 1.8},
   "encoding": {"x": {"field": "x", "type": "quantitative", "scale": {"domain": [2195, 3200], "nice": false, "zero": false}, "axis": null},
                "y": {"field": "y", "type": "quantitative", "scale": {"domain": [-2, 2], "nice": false, "zero": false}, "axis": null},
                "x2": {"field": "x2"}, "y2": {"field": "y2"}}},
  {"data": {"values": [{"x": 2657, "f": 1.3, "t": "Cyt. c/ PC bilayer"}]}, "mark": {"type": "text", "font": "Liberation Serif", "fontSize": 24, "align": "center", "baseline": "alphabetic", "color": "#000"},
   "encoding": {"x": {"field": "x", "type": "quantitative", "scale": {"domain": [2195, 3200], "nice": false, "zero": false}, "axis": null},
                "y": {"field": "f", "type": "quantitative", "scale": {"domain": [-2, 2], "nice": false, "zero": false}, "axis": null},
                "text": {"field": "t"}}}
 ],
 "resolve": {"scale": {"y": "independent"}, "axis": {"x": "independent", "y": "independent"}}
},
{
 "width": 400, "height": 171,
 "layer": [
  {"data": {"name": "p4"}, "mark": {"type": "line", "color": "#8c8c8c", "strokeWidth": 1.1, "clip": true},
   "encoding": {"x": {"field": "x", "type": "quantitative", "scale": {"domain": [1050, 1450], "nice": false, "zero": false}, "axis": null},
                "y": {"field": "d", "type": "quantitative", "scale": {"domain": [-0.09, 0.49], "nice": false, "zero": false}, "axis": {"orient": "right", "values": [-0.05, 0.1, 0.25, 0.4], "labelPadding": 9, "labelOffset": 5, "labelExpr": "'' + datum.value", "title": "ΔD (×10⁻⁶)", "titleX": 69, "titleY": 81.5, "titleBaseline": "middle", "titleAngle": 90}}}},
  {"data": {"name": "q4"}, "mark": {"type": "point", "shape": "square", "filled": false, "color": "#8c8c8c", "size": 150, "strokeWidth": 1.1},
   "encoding": {"x": {"field": "x", "type": "quantitative", "scale": {"domain": [1050, 1450], "nice": false, "zero": false}, "axis": null},
                "y": {"field": "d", "type": "quantitative", "scale": {"domain": [-0.09, 0.49], "nice": false, "zero": false}, "axis": null}}},
  {"data": {"name": "p4"}, "mark": {"type": "line", "color": "#000", "strokeWidth": 1.6, "clip": true},
   "encoding": {"x": {"field": "x", "type": "quantitative", "scale": {"domain": [1050, 1450], "nice": false, "zero": false}, "axis": {"orient": "bottom", "values": [1100, 1200, 1300, 1400], "labelPadding": 17, "labelExpr": "'' + datum.value", "title": null}},
                "y": {"field": "f", "type": "quantitative", "scale": {"domain": [-7, 1], "nice": false, "zero": false}, "axis": {"orient": "left", "values": [-6, -4, -2, 0], "labelPadding": 14, "labelOffset": 5, "labelExpr": "'' + datum.value", "title": "Δf (Hz)", "titleX": -59, "titleY": 111.5, "titleBaseline": "middle", "titleAngle": -90}}}},
  {"data": {"name": "c4"}, "mark": {"type": "point", "shape": "circle", "filled": false, "color": "#000", "size": 120, "strokeWidth": 1.2},
   "encoding": {"x": {"field": "x", "type": "quantitative", "scale": {"domain": [1050, 1450], "nice": false, "zero": false}, "axis": null},
                "y": {"field": "f", "type": "quantitative", "scale": {"domain": [-7, 1], "nice": false, "zero": false}, "axis": null}}},
  {"data": {"name": "k4"}, "mark": {"type": "rule", "color": "#000", "strokeWidth": 1.8},
   "encoding": {"x": {"field": "x", "type": "quantitative", "scale": {"domain": [1050, 1450], "nice": false, "zero": false}, "axis": null},
                "y": {"field": "y", "type": "quantitative", "scale": {"domain": [-7, 1], "nice": false, "zero": false}, "axis": null},
                "x2": {"field": "x2"}, "y2": {"field": "y2"}}},
  {"data": {"values": [{"x": 1272, "f": -0.02, "t": "Cyt. c/ PE:PC:PS bilayer"}]}, "mark": {"type": "text", "font": "Liberation Serif", "fontSize": 24, "align": "center", "baseline": "alphabetic", "color": "#000"},
   "encoding": {"x": {"field": "x", "type": "quantitative", "scale": {"domain": [1050, 1450], "nice": false, "zero": false}, "axis": null},
                "y": {"field": "f", "type": "quantitative", "scale": {"domain": [-7, 1], "nice": false, "zero": false}, "axis": null},
                "text": {"field": "t"}}}
 ],
 "resolve": {"scale": {"y": "independent"}, "axis": {"x": "independent", "y": "independent"}}
},
{
 "width": 400, "height": 171,
 "layer": [
  {"data": {"name": "p5"}, "mark": {"type": "line", "color": "#8c8c8c", "strokeWidth": 1.1, "clip": true},
   "encoding": {"x": {"field": "x", "type": "quantitative", "scale": {"domain": [450, 1200], "nice": false, "zero": false}, "axis": null},
                "y": {"field": "d", "type": "quantitative", "scale": {"domain": [-0.21, 0.21], "nice": false, "zero": false}, "axis": {"orient": "right", "values": [-0.2, -0.1, 0, 0.1, 0.2], "labelPadding": 13, "labelOffset": 5, "labelExpr": "'' + datum.value", "title": "ΔD (×10⁻⁶)", "titleX": 69, "titleY": 83.7, "titleBaseline": "middle", "titleAngle": 90}}}},
  {"data": {"name": "q5"}, "mark": {"type": "point", "shape": "square", "filled": false, "color": "#8c8c8c", "size": 150, "strokeWidth": 1.1},
   "encoding": {"x": {"field": "x", "type": "quantitative", "scale": {"domain": [450, 1200], "nice": false, "zero": false}, "axis": null},
                "y": {"field": "d", "type": "quantitative", "scale": {"domain": [-0.21, 0.21], "nice": false, "zero": false}, "axis": null}}},
  {"data": {"name": "p5"}, "mark": {"type": "line", "color": "#000", "strokeWidth": 1.6, "clip": true},
   "encoding": {"x": {"field": "x", "type": "quantitative", "scale": {"domain": [450, 1200], "nice": false, "zero": false}, "axis": {"orient": "bottom", "values": [562.5, 750, 937.5, 1125], "labelPadding": 17, "labelExpr": "'' + datum.value", "title": "Time (s)", "titleFontSize": 22, "titleX": 184, "titleY": 58, "titleBaseline": "alphabetic"}},
                "y": {"field": "f", "type": "quantitative", "scale": {"domain": [-33, 1.7], "nice": false, "zero": false}, "axis": {"orient": "left", "values": [-28, -21, -14, -7, 0], "labelPadding": 14, "labelOffset": 5, "labelExpr": "'' + datum.value", "title": "Δf (Hz)", "titleX": -59, "titleY": 98.7, "titleBaseline": "middle", "titleAngle": -90}}}},
  {"data": {"name": "c5"}, "mark": {"type": "point", "shape": "circle", "filled": false, "color": "#000", "size": 120, "strokeWidth": 1.2},
   "encoding": {"x": {"field": "x", "type": "quantitative", "scale": {"domain": [450, 1200], "nice": false, "zero": false}, "axis": null},
                "y": {"field": "f", "type": "quantitative", "scale": {"domain": [-33, 1.7], "nice": false, "zero": false}, "axis": null}}},
  {"data": {"name": "k5"}, "mark": {"type": "rule", "color": "#000", "strokeWidth": 1.8},
   "encoding": {"x": {"field": "x", "type": "quantitative", "scale": {"domain": [450, 1200], "nice": false, "zero": false}, "axis": null},
                "y": {"field": "y", "type": "quantitative", "scale": {"domain": [-33, 1.7], "nice": false, "zero": false}, "axis": null},
                "x2": {"field": "x2"}, "y2": {"field": "y2"}}},
  {"data": {"values": [{"x": 586, "f": -2.7, "x2": 505, "f2": -0.45}, {"x": 680, "f": -18.2, "x2": 680, "f2": -24}, {"x": 836, "f": -20.5, "x2": 836, "f2": -27}]},
   "mark": {"type": "rule", "color": "#000", "strokeWidth": 1.8},
   "encoding": {"x": {"field": "x", "type": "quantitative", "scale": {"domain": [450, 1200], "nice": false, "zero": false}, "axis": null},
                "y": {"field": "f", "type": "quantitative", "scale": {"domain": [-33, 1.7], "nice": false, "zero": false}, "axis": null},
                "x2": {"field": "x2"}, "y2": {"field": "f2"}}},
  {"data": {"values": [{"x": 680, "f": -23.8}, {"x": 836, "f": -26.6}]},
   "mark": {"type": "point", "shape": "M0,1L-0.55,-1L0,-0.45L0.55,-1Z", "filled": true, "color": "#000", "size": 400, "strokeWidth": 0, "opacity": 1},
   "encoding": {"x": {"field": "x", "type": "quantitative", "scale": {"domain": [450, 1200], "nice": false, "zero": false}, "axis": null},
                "y": {"field": "f", "type": "quantitative", "scale": {"domain": [-33, 1.7], "nice": false, "zero": false}, "axis": null}}},
  {"data": {"values": [{"x": 511, "f": -0.65}]},
   "mark": {"type": "point", "shape": "M0,1L-0.55,-1L0,-0.45L0.55,-1Z", "filled": true, "color": "#000", "size": 400, "strokeWidth": 0, "opacity": 1, "angle": 104},
   "encoding": {"x": {"field": "x", "type": "quantitative", "scale": {"domain": [450, 1200], "nice": false, "zero": false}, "axis": null},
                "y": {"field": "f", "type": "quantitative", "scale": {"domain": [-33, 1.7], "nice": false, "zero": false}, "axis": null}}},
  {"data": {"values": [{"x": 896, "f": -2.9, "t": "Cyt. c/ CH₃-SAM on gold"}]}, "mark": {"type": "text", "font": "Liberation Serif", "fontSize": 24, "align": "center", "baseline": "alphabetic", "color": "#000"},
   "encoding": {"x": {"field": "x", "type": "quantitative", "scale": {"domain": [450, 1200], "nice": false, "zero": false}, "axis": null},
                "y": {"field": "f", "type": "quantitative", "scale": {"domain": [-33, 1.7], "nice": false, "zero": false}, "axis": null},
                "text": {"field": "t"}}}
 ],
 "resolve": {"scale": {"y": "independent"}, "axis": {"x": "independent", "y": "independent"}}
}
],
"spacing": 80.5,
"bounds": "flush"
}
